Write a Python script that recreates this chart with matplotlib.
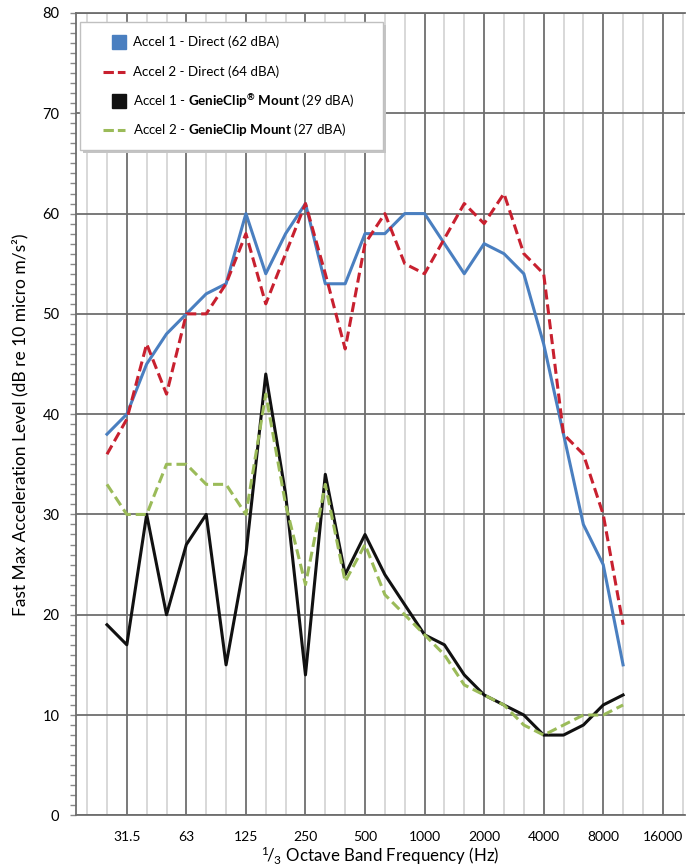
import matplotlib
matplotlib.use("Agg")
import matplotlib.pyplot as plt
from matplotlib.lines import Line2D
from matplotlib.patches import Rectangle
import numpy as np

plt.rcParams['font.family'] = ['Lato', 'DejaVu Sans']
plt.rcParams['mathtext.fontset'] = 'custom'
plt.rcParams['mathtext.rm'] = 'Lato'
plt.rcParams['mathtext.it'] = 'Lato'
plt.rcParams['mathtext.bf'] = 'Lato:bold'

# 1/3 octave band centre frequencies (Hz)
freqs = ["25", "31.5", "40", "50", "63", "80", "100", "125", "160", "200", "250", "315",
         "400", "500", "630", "800", "1000", "1250", "1600", "2000", "2500", "3150",
         "4000", "5000", "6300", "8000", "10000"]
octave_labels = ["31.5", "63", "125", "250", "500", "1000", "2000", "4000", "8000", "16000"]

accel1_direct = [38, 40, 45, 48, 50, 52, 53, 60, 54, 58, 61, 53, 53, 58, 58, 60, 60, 57,
                 54, 57, 56, 54, 47, 38, 29, 25, 15]
accel2_direct = [36, 39.5, 47, 42, 50, 50, 53, 58, 51, 56, 61, 54, 46.5, 57, 60, 55, 54, 57.5,
                 61, 59, 62, 56, 54, 38, 36, 30, 19]
accel1_clip = [19, 17, 30, 20, 27, 30, 15, 26, 44, 32, 14, 34, 24, 28, 24, 21, 18, 17,
               14, 12, 11, 10, 8, 8, 9, 11, 12]
accel2_clip = [33, 30, 30, 35, 35, 33, 33, 30, 42, 31, 23, 33, 23.3, 27, 22, 20, 18, 16,
               13, 12, 11, 9, 8, 9, 10, 10, 11]

labels = ["Accel 1 - Direct (62 dBA)",
          "Accel 2 - Direct (64 dBA)",
          r"Accel 1 - $\mathbf{GenieClip}^{\mathbf{®}}\ \mathbf{Mount}$ (29 dBA)",
          r"Accel 2 - $\mathbf{GenieClip\ Mount}$ (27 dBA)"]

c_blue = "#4a7fc0"
c_red = "#c8202f"
c_black = "#111111"
c_green = "#9bbb59"
LW = 2.2
DASH = (3.3, 1.6)

W, H = 686, 868
fig = plt.figure(figsize=(W / 100, H / 100), dpi=100)
ax = fig.add_axes([76 / W, 1 - 815.3 / H, (685 - 76) / W, (815.3 - 13) / H])

x = np.arange(len(freqs))
ax.plot(x, accel1_direct, color=c_blue, lw=LW, zorder=3)
ax.plot(x, accel2_direct, color=c_red, lw=LW, dashes=DASH, zorder=4)
ax.plot(x, accel1_clip, color=c_black, lw=LW, zorder=3)
ax.plot(x, accel2_clip, color=c_green, lw=LW, dashes=DASH, zorder=4)

# axes ranges and grid
ax.set_xlim(-1.56, 29.12)
ax.set_ylim(0, 80)
oct_pos = np.arange(1, 29, 3)
third_pos = [p for p in range(-1, 30) if p not in oct_pos]
ax.set_xticks(oct_pos)
ax.set_xticklabels(octave_labels)
ax.set_xticks(third_pos, minor=True)
ax.set_yticks(np.arange(0, 81, 10))
ax.set_yticks(np.arange(0, 81, 1), minor=True)

ax.grid(axis='x', which='major', color='#6e6e6e', lw=1.3, zorder=1)
ax.grid(axis='x', which='minor', color='#d6d6d6', lw=1.3, zorder=1)
ax.grid(axis='y', which='major', color='#6e6e6e', lw=1.3, zorder=1)
ax.set_axisbelow(True)

ax.tick_params(axis='x', which='both', length=0, pad=11, labelsize=10)
ax.tick_params(axis='y', which='both', length=4, width=1, color='#888888',
               direction='out', labelsize=10.5, pad=8)
ax.spines['right'].set_visible(False)
for s in ['left', 'bottom', 'top']:
    ax.spines[s].set_color('#6e6e6e')
    ax.spines[s].set_linewidth(1.3)


def fx(px):
    return px / W


def fy(py):
    return 1 - py / H


# axis titles
fig.text(fx(20), fy(425), "Fast Max Acceleration Level (dB re 10 micro m/s²)",
         rotation=90, ha='center', va='center', fontsize=12.5)
fig.text(fx(380), fy(867), r"$^{1}\!/_{3}$ Octave Band Frequency (Hz)",
         ha='center', va='bottom', fontsize=12.2)

# legend box
fig.add_artist(Rectangle((fx(83), fy(153)), fx(383) - fx(80), fy(22) - fy(150),
                         transform=fig.transFigure, facecolor='#c4c4c4',
                         edgecolor='none', zorder=20))
fig.add_artist(Rectangle((fx(80), fy(150)), fx(383) - fx(80), fy(22) - fy(150),
                         transform=fig.transFigure, facecolor='white',
                         edgecolor='#c0c0c0', lw=1.0, zorder=21))
rows = [42, 72, 101, 130]
styles = [('sq', c_blue), ('dash', c_red), ('sq', c_black), ('dash', c_green)]
for (kind, col), lab, ry in zip(styles, labels, rows):
    if kind == 'sq':
        fig.add_artist(Line2D([fx(118.5)], [fy(ry)], transform=fig.transFigure,
                              marker='s', ls='none', color=col, markersize=9.4, zorder=22))
    else:
        fig.add_artist(Line2D([fx(103), fx(125)], [fy(ry), fy(ry)],
                              transform=fig.transFigure, color=col, lw=LW,
                              dashes=(3.4, 1.3), zorder=22))
    fig.text(fx(133), fy(ry), lab, ha='left', va='center', fontsize=9.6, zorder=23)

fig.savefig("out.png", dpi=100)
